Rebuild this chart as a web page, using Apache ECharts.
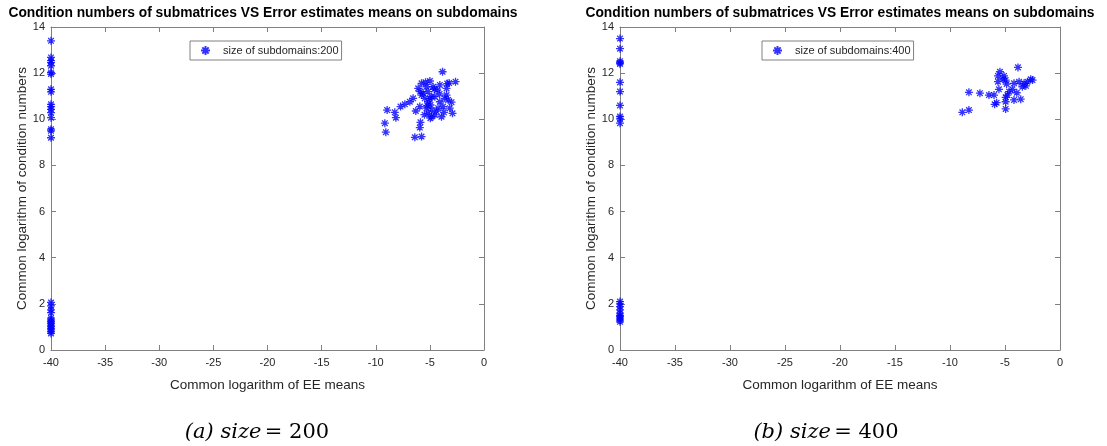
<!DOCTYPE html>
<html>
<head>
<meta charset="utf-8">
<script src="https://cdn.jsdelivr.net/npm/echarts@6/dist/echarts.min.js"></script>
<style>html,body{margin:0;padding:0;background:#fff;}#c{width:1107px;height:446px;}</style>
</head>
<body>
<div id="c"></div>
<script>
// ---- data ----
const titleText = 'Condition numbers of submatrices VS Error estimates means on subdomains';
const xTicks = [-40, -35, -30, -25, -20, -15, -10, -5, 0];
const yTicks = [0, 2, 4, 6, 8, 10, 12, 14];
const seriesNames = ['size of subdomains:200', 'size of subdomains:400'];
const captions = ['(a) size', '(b) size'];
const captionValues = ['= 200', '= 400'];

// size 200: points on the x = -40 boundary
const size200Axis = [
  [-40, 13.4], [-40, 12.68], [-40, 12.54], [-40, 12.46], [-40, 12.32], [-40, 12.03], [-40, 11.96],
  [-40, 11.3], [-40, 11.19], [-40, 10.65], [-40, 10.55], [-40, 10.43], [-40, 10.29], [-40, 10.07],
  [-40, 9.57], [-40, 9.5], [-40, 9.2],
  [-40, 2.06], [-40, 1.91], [-40, 1.74], [-40, 1.62], [-40, 1.38], [-40, 1.3], [-40, 1.23],
  [-40, 1.16], [-40, 1.08], [-40, 1.01], [-40, 0.94], [-40, 0.87], [-40, 0.8], [-40, 0.72]
];
// size 200: cluster
const size200Cluster = [
  [-3.83, 12.06], [-2.63, 11.63], [-3.22, 11.57], [-5.77, 11.56], [-5.0, 11.66], [-5.31, 11.41],
  [-4.08, 11.49], [-4.33, 11.27], [-3.46, 11.34], [-6.08, 11.34], [-5.62, 11.13], [-5.16, 11.2],
  [-4.85, 10.98], [-5.47, 10.91], [-4.54, 10.98], [-3.46, 11.05], [-3.31, 10.84], [-3.0, 10.74],
  [-6.55, 10.91], [-6.85, 10.76], [-7.31, 10.65], [-7.71, 10.55], [-5.93, 10.55], [-4.94, 10.62],
  [-4.85, 10.4], [-4.24, 10.48], [-3.78, 10.55], [-3.16, 10.48], [-2.91, 10.26], [-6.3, 10.36],
  [-5.16, 10.26], [-4.54, 10.19], [-3.93, 10.11], [-8.95, 10.4], [-8.24, 10.3], [-8.14, 10.07],
  [-9.16, 9.83], [-9.07, 9.44], [-5.87, 9.87], [-5.93, 9.64], [-5.77, 9.25], [-6.39, 9.22],
  [-4.85, 10.11], [-5.31, 10.48], [-4.08, 10.76], [-5.77, 11.05], [-4.7, 11.41], [-3.62, 10.91],
  [-5.16, 10.76], [-5.4, 11.6], [-4.6, 11.3], [-5.0, 10.9], [-4.4, 10.35], [-5.5, 10.2],
  [-3.7, 10.3], [-4.1, 11.1], [-5.9, 11.2], [-4.95, 10.05], [-3.4, 11.55], [-5.25, 10.6]
];
// size 400: points on the x = -40 boundary
const size400Axis = [
  [-40, 13.5], [-40, 13.06], [-40, 12.52], [-40, 12.45], [-40, 12.4], [-40, 11.6], [-40, 11.2],
  [-40, 10.6], [-40, 10.12], [-40, 10.02], [-40, 9.83],
  [-40, 2.1], [-40, 2.0], [-40, 1.88], [-40, 1.74], [-40, 1.6], [-40, 1.5], [-40, 1.45],
  [-40, 1.38], [-40, 1.3], [-40, 1.22]
];
// size 400: cluster
const size400Cluster = [
  [-3.82, 12.25], [-5.46, 12.06], [-5.64, 11.88], [-5.09, 11.88], [-4.94, 11.7], [-5.64, 11.63],
  [-4.85, 11.53], [-4.18, 11.56], [-3.72, 11.63], [-3.27, 11.56], [-2.66, 11.73], [-2.5, 11.7],
  [-2.96, 11.63], [-3.42, 11.41], [-3.93, 11.15], [-4.33, 11.3], [-4.63, 11.2], [-5.55, 11.3],
  [-4.78, 11.05], [-4.94, 10.95], [-4.94, 10.76], [-4.18, 10.84], [-3.57, 10.87], [-8.28, 11.17],
  [-7.28, 11.13], [-6.46, 11.05], [-6.0, 11.05], [-5.76, 10.72], [-5.94, 10.65], [-4.94, 10.45],
  [-8.28, 10.4], [-8.88, 10.3], [-5.2, 11.75], [-3.1, 11.45]
];

// ---- styling / layout ----
const axisColor = '#808080';
const textColor = '#262626';
const starPath = 'path://M5 0L5 10M0 5L10 5M1.5 1.5L8.5 8.5M8.5 1.5L1.5 8.5';
const grids = [
  { left: 51, right: 623, top: 27, bottom: 96 },
  { left: 620, right: 47, top: 27, bottom: 96 }
];
const xMin = xTicks[0], xMax = xTicks[xTicks.length - 1], xStep = xTicks[1] - xTicks[0];
const yMin = yTicks[0], yMax = yTicks[yTicks.length - 1], yStep = yTicks[1] - yTicks[0];

function xAx(g, pos, showLabel) {
  return {
    type: 'value', gridIndex: g, position: pos, min: xMin, max: xMax, interval: xStep,
    axisLine: { show: true, onZero: false, lineStyle: { color: axisColor, width: 1 } },
    axisTick: { show: true, inside: true, length: 5, lineStyle: { color: axisColor } },
    axisLabel: { show: showLabel, color: textColor, fontSize: 11, fontFamily: 'Liberation Sans', margin: 7 },
    splitLine: { show: false },
    name: showLabel ? 'Common logarithm of EE means' : '',
    nameLocation: 'middle', nameGap: 28,
    nameTextStyle: { color: textColor, fontSize: 13.5, fontFamily: 'Liberation Sans' }
  };
}
function yAx(g, pos, showLabel) {
  return {
    type: 'value', gridIndex: g, position: pos, min: yMin, max: yMax, interval: yStep,
    axisLine: { show: true, onZero: false, lineStyle: { color: axisColor, width: 1 } },
    axisTick: { show: true, inside: true, length: 5, lineStyle: { color: axisColor } },
    axisLabel: { show: showLabel, color: textColor, fontSize: 11, fontFamily: 'Liberation Sans', margin: 6 },
    splitLine: { show: false },
    name: showLabel ? 'Common logarithm of condition numbers' : '',
    nameLocation: 'middle', nameGap: 22, nameRotate: 90,
    nameTextStyle: { color: textColor, fontSize: 13.5, fontFamily: 'Liberation Sans' }
  };
}
function scatter(name, data, xi, yi) {
  return {
    type: 'scatter', name: name, data: data, xAxisIndex: xi, yAxisIndex: yi,
    symbol: starPath, symbolSize: 8, clip: false,
    itemStyle: { color: 'rgba(0,0,255,0)', borderColor: '#0000ff', borderWidth: 1.3 },
    emphasis: { disabled: true }
  };
}
function legend(name, left) {
  return {
    data: [name], left: left, top: 41, orient: 'horizontal',
    backgroundColor: '#fff', borderColor: axisColor, borderWidth: 1,
    padding: [4, 3, 4, 10], itemWidth: 9, itemHeight: 9, itemGap: 5,
    textStyle: { color: textColor, fontSize: 11, fontFamily: 'Liberation Sans', padding: [0, 0, 0, 8] },
    selectedMode: false
  };
}

const chart = echarts.init(document.getElementById('c'), null, { renderer: 'canvas' });
chart.setOption({
  animation: false,
  backgroundColor: '#ffffff',
  grid: grids,
  xAxis: [xAx(0, 'bottom', true), xAx(0, 'top', false), xAx(1, 'bottom', true), xAx(1, 'top', false)],
  yAxis: [yAx(0, 'left', true), yAx(0, 'right', false), yAx(1, 'left', true), yAx(1, 'right', false)],
  legend: [legend(seriesNames[0], 190), legend(seriesNames[1], 762)],
  series: [
    scatter(seriesNames[0], size200Axis.concat(size200Cluster), 0, 0),
    scatter(seriesNames[1], size400Axis.concat(size400Cluster), 2, 2)
  ],
  graphic: [
    { type: 'text', x: 263, y: 6, style: { text: titleText, fill: '#000', font: 'bold 13.8px "Liberation Sans"', textAlign: 'center' } },
    { type: 'text', x: 840, y: 6, style: { text: titleText, fill: '#000', font: 'bold 13.8px "Liberation Sans"', textAlign: 'center' } },
    { type: 'text', x: 257, y: 422, style: { text: '{i|' + captions[0] + '} {n|' + captionValues[0] + '}', textAlign: 'center',
      rich: { i: { font: 'italic 21px "DejaVu Serif"', fill: '#000' }, n: { font: '21px "DejaVu Serif"', fill: '#000' } } } },
    { type: 'text', x: 826, y: 422, style: { text: '{i|' + captions[1] + '} {n|' + captionValues[1] + '}', textAlign: 'center',
      rich: { i: { font: 'italic 21px "DejaVu Serif"', fill: '#000' }, n: { font: '21px "DejaVu Serif"', fill: '#000' } } } }
  ]
});
</script>
</body>
</html>
